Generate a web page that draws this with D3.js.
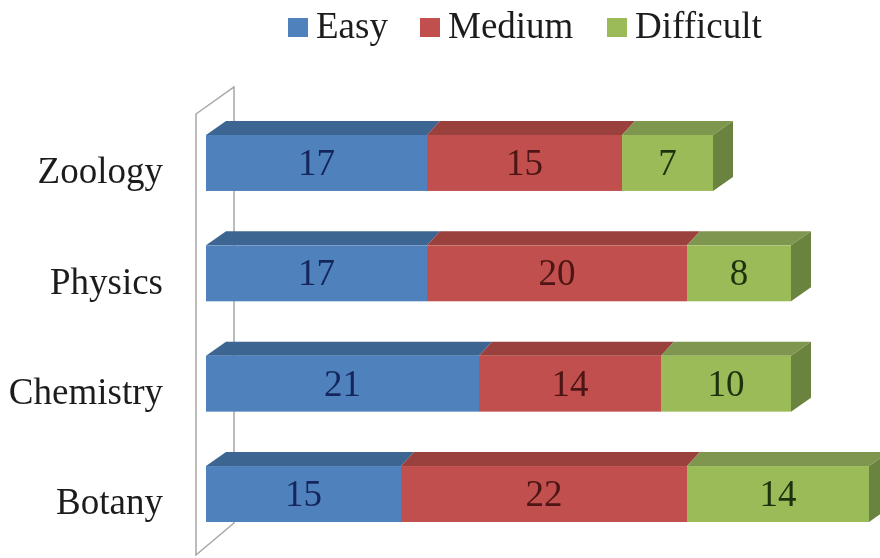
<!DOCTYPE html>
<html>
<head>
<meta charset="utf-8">
<script src="https://cdn.jsdelivr.net/npm/d3@7"></script>
<style>
  html, body { margin: 0; padding: 0; background: #fff; }
  text { font-family: "Liberation Serif", serif; }
</style>
</head>
<body>
<div id="chart"></div>
<script>
const subjects = ["Zoology", "Physics", "Chemistry", "Botany"];
const levels = ["Easy", "Medium", "Difficult"];
const easy = [17, 17, 21, 15];
const medium = [15, 20, 14, 22];
const difficult = [7, 8, 10, 14];

const frontColors = ["#4f81bd", "#c0504d", "#9bbb59"];
const topColors = ["#3d6592", "#9a403e", "#7f9650"];
const sideColors = ["#32527a", "#7b3331", "#6b8440"];
const labelColors = ["#14285c", "#4d1512", "#1f3310"];

const width = 880, height = 558;
const depthX = 20, depthY = 14;
const seamX = 13; // seams between segments lean less than the outer edges

const svg = d3.select("#chart").append("svg")
    .attr("width", width)
    .attr("height", height)
    .style("display", "block");

// the source picture is a soft jpeg
const soft = svg.append("defs").append("filter").attr("id", "soft");
soft.append("feGaussianBlur").attr("stdDeviation", 0.5);
const root = svg.append("g").attr("filter", "url(#soft)");

const x = d3.scaleLinear().domain([0, 51]).range([206, 869]);
const y = d3.scaleBand().domain(subjects).range([135, 522]).paddingInner(0.493);

const rows = subjects.map((s, i) => ({ subject: s, Easy: easy[i], Medium: medium[i], Difficult: difficult[i] }));
const series = d3.stack().keys(levels)(rows);

// wall behind the bars
const wall = d3.path();
wall.moveTo(x(0) - 10, y.range()[0] - 21);
wall.lineTo(x(0) - 10 + 38, y.range()[0] - 48);
wall.lineTo(x(0) - 10 + 38, y.range()[1] + 1);
wall.lineTo(x(0) - 10, y.range()[1] + 33);
wall.closePath();
root.append("path")
    .attr("d", wall.toString())
    .attr("fill", "none")
    .attr("stroke", "#a6a6a6")
    .attr("stroke-width", 1.5);

// bars
series.forEach((s, k) => {
    const g = root.append("g").attr("class", "series-" + k);
    const leftLean = k === 0 ? depthX : seamX;
    const rightLean = k === series.length - 1 ? depthX : seamX;

    g.selectAll("path.top")
        .data(s)
        .enter()
        .append("path")
        .attr("class", "top")
        .attr("fill", topColors[k])
        .attr("d", d => {
            const t = y(d.data.subject);
            return `M${x(d[0])},${t}L${x(d[0]) + leftLean},${t - depthY}L${x(d[1]) + rightLean},${t - depthY}L${x(d[1])},${t}Z`;
        });

    // only the last segment shows its right side
    if (k === series.length - 1) {
        g.selectAll("path.side")
            .data(s)
            .enter()
            .append("path")
            .attr("class", "side")
            .attr("fill", sideColors[k])
            .attr("d", d => {
                const t = y(d.data.subject), b = t + y.bandwidth();
                return `M${x(d[1])},${t}L${x(d[1]) + depthX},${t - depthY}L${x(d[1]) + depthX},${b - depthY}L${x(d[1])},${b}Z`;
            });
    }

    g.selectAll("rect")
        .data(s)
        .enter()
        .append("rect")
        .attr("x", d => x(d[0]))
        .attr("y", d => y(d.data.subject))
        .attr("width", d => x(d[1]) - x(d[0]))
        .attr("height", y.bandwidth())
        .attr("fill", frontColors[k]);

    g.selectAll("text")
        .data(s)
        .enter()
        .append("text")
        .attr("x", d => (x(d[0]) + x(d[1])) / 2)
        .attr("y", d => y(d.data.subject) + y.bandwidth() / 2 - 1)
        .attr("dy", "0.35em")
        .attr("text-anchor", "middle")
        .attr("font-size", 37)
        .attr("fill", labelColors[k])
        .text(d => d[1] - d[0]);
});

// category axis, labels sit a little below the front faces' centre
const axis = root.append("g")
    .attr("transform", "translate(170,8.5)")
    .call(d3.axisLeft(y).tickSize(0).tickPadding(7));
axis.select(".domain").remove();
axis.selectAll("text")
    .attr("font-family", "Liberation Serif")
    .attr("font-size", 37)
    .attr("fill", "#1f1f1f");

// legend
const legendX = [288, 420, 607];
const legend = root.selectAll("g.legend")
    .data(levels)
    .enter()
    .append("g")
    .attr("class", "legend")
    .attr("transform", (d, i) => `translate(${legendX[i]},0)`);
legend.append("rect")
    .attr("y", 18)
    .attr("width", 20)
    .attr("height", 19)
    .attr("fill", (d, i) => frontColors[i]);
legend.append("text")
    .attr("x", 28)
    .attr("y", 38)
    .attr("font-size", 37)
    .attr("fill", "#1f1f1f")
    .text(d => d);
</script>
</body>
</html>
